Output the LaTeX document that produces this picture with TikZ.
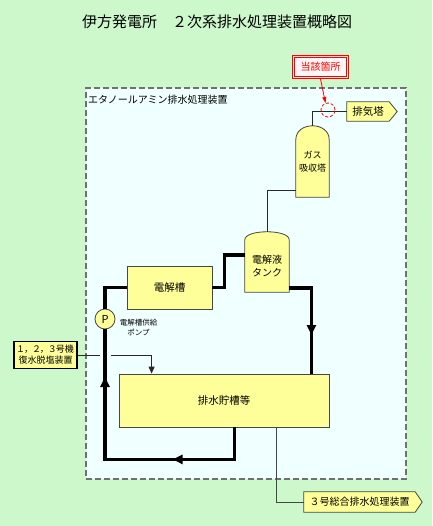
\documentclass[tikz,border=0pt]{standalone}
\usepackage{fontspec}
\setmainfont{Noto Sans CJK JP}
\newfontfamily\jpprop{Noto Sans CJK JP}[RawFeature=+palt]
\newcommand{\pdig}[1]{{\jpprop #1}}
\usetikzlibrary{calc,arrows.meta,decorations.markings}
\pgfdeclarelayer{back}
\pgfdeclarelayer{mid}
\pgfsetlayers{back,mid,main}
\definecolor{bggreen}{RGB}{204,248,204}
\definecolor{areacol}{RGB}{240,255,255}
\definecolor{boxyellow}{RGB}{255,255,153}
\definecolor{edgegray}{RGB}{70,70,70}
\definecolor{dashgray}{RGB}{112,112,112}
\definecolor{lblpink}{RGB}{255,225,225}
\definecolor{lblfill}{RGB}{255,245,245}
\definecolor{pipecol}{RGB}{40,40,40}
\begin{document}
\begin{tikzpicture}[x=1pt,y=-1pt,
  unit/.style={draw=edgegray, fill=boxyellow, line width=0.8pt, inner sep=0pt},
  txt/.style={inner sep=0pt, align=center},
  vessel/.style={draw=edgegray, fill=boxyellow, line width=0.8pt},
  flow/.style={line width=3.5pt, draw=black},
  pipe/.style={line width=1pt, draw=pipecol},
  bighead/.style={decoration={markings, #1}, postaction={decorate}},
]
\begin{pgfonlayer}{back}
\fill[bggreen] (0,0) rectangle (432,526);
\node[draw=dashgray, fill=areacol, dash pattern=on 6pt off 3pt, line width=1.8pt,
      minimum width=320, minimum height=391, inner sep=0pt] (area) at (246,283.5) {};
\end{pgfonlayer}
\useasboundingbox (0,0) rectangle (432,526);

\node[font=\fontsize{15}{17}\selectfont, inner sep=0pt] (title) at (217,22) {伊方発電所　２次系排水処理装置概略図};
\node[anchor=west, inner sep=0pt, font=\fontsize{10}{12}\selectfont] (arealbl) at (88,100) {エタノールアミン排水処理装置};

% nodes
\node[unit, minimum width=85, minimum height=43, font=\fontsize{10.5}{12}\selectfont] (cell) at (169.5,287.5) {電解槽};
\node[txt, minimum width=44, minimum height=52, font=\fontsize{10}{12.5}\selectfont] (tank) at (267,266) {電解液\\タンク};
\node[txt, minimum width=33, minimum height=71, font=\fontsize{9}{12.5}\selectfont] (gas) at (312.5,161.5) {ガス\\吸収塔};
\node[unit, minimum width=210, minimum height=53, font=\fontsize{10.5}{12}\selectfont] (store) at (224,400.5) {排水貯槽等};
\node[unit, circle, minimum size=20, font=\fontsize{11}{12}\selectfont] (pump) at (105,319) {P};
\node[txt, font=\fontsize{7.5}{10}\selectfont] (pumplbl) at (138.5,328) {電解槽供給\\ポンプ};
\node[unit, draw=black, line width=1.8pt, minimum width=63, minimum height=27, align=center, font=\fontsize{9}{11}\selectfont] (in) at (45.5,355) {\pdig{１}，\pdig{２}，\pdig{３}号機\\復水脱塩装置};
\node[txt, minimum width=42, minimum height=19, font=\fontsize{10.5}{12}\selectfont] (exh) at (368,111.5) {排気塔};
\node[txt, minimum width=111, minimum height=20, font=\fontsize{10}{12}\selectfont] (out) at (359.5,502) {３号総合排水処理装置};
\node[draw=red, line width=0.8pt, double=lblpink, double distance=1.5pt, fill=lblfill, text=red, minimum width=54, minimum height=21, inner sep=0pt, font=\fontsize{10}{12}\selectfont] (lbl) at (320.5,67) {当該箇所};

% vessel outlines
\begin{pgfonlayer}{mid}
\draw[vessel] (gas.south west) -- ($(gas.north west)+(0,14)$)
  .. controls ($(gas.north west)+(0,-4.7)$) and ($(gas.north east)+(0,-4.7)$) .. ($(gas.north east)+(0,14)$)
  -- (gas.south east) -- cycle;
\draw[vessel] (tank.south west) -- (tank.north west)
  .. controls ($(tank.north west)+(0,-10.7)$) and ($(tank.north east)+(0,-10.7)$) .. (tank.north east)
  -- (tank.south east) -- cycle;
\draw[vessel] (exh.north west) -- (exh.north east) -- ($(exh.east)+(8,0)$) -- (exh.south east) -- (exh.south west) -- cycle;
\draw[vessel] (out.north west) -- (out.north east) -- ($(out.east)+(7,0)$) -- (out.south east) -- (out.south west) -- cycle;
\end{pgfonlayer}

% thin pipes
\draw[pipe] (gas.north) |- (exh.west);
\draw[pipe] ($(gas.south west)+(0,-7)$) -| ($(tank.north)+(0,-8)$);
\coordinate (gapL) at (100,355);
\coordinate (gapR) at (111,355);
\draw[pipe, -{Triangle[length=7pt,width=6pt]}] (in.east) -- (gapL) (gapR) -| ($(store.north west)+(33,0)$);
\draw[pipe, draw=edgegray] ($(store.south west)+(158,0)$) |- (out.west);

% thick flow lines
\draw[flow] (cell.east) -- ++(12,0) |- ($(tank.west)+(0,-11)$);
\draw[flow, bighead={mark=at position 69pt with {\arrow{Triangle[length=10pt,width=9pt]}}}]
  ($(tank.south east)+(0,-4)$) -| ($(store.north east)+(-18,0)$);
\draw[flow, bighead={mark=at position 94pt with {\arrow{Triangle[length=10pt,width=9pt]}},
                     mark=at position 244pt with {\arrow{Triangle[length=10pt,width=9pt]}}}]
  ($(store.south west)+(116,0)$) -- ++(0,32) -| (pump.south);
\draw[flow] (pump.north) |- (cell.west);

% marked spot
\node[circle, draw=red, densely dashed, line width=0.8pt, minimum size=14, inner sep=0pt] (spot) at (328,110) {};
\draw[red, line width=0.8pt, -{Triangle[length=6pt,width=4pt]}] ($(lbl.south)+(0,1)$) -- (spot.110);
\end{tikzpicture}
\end{document}
